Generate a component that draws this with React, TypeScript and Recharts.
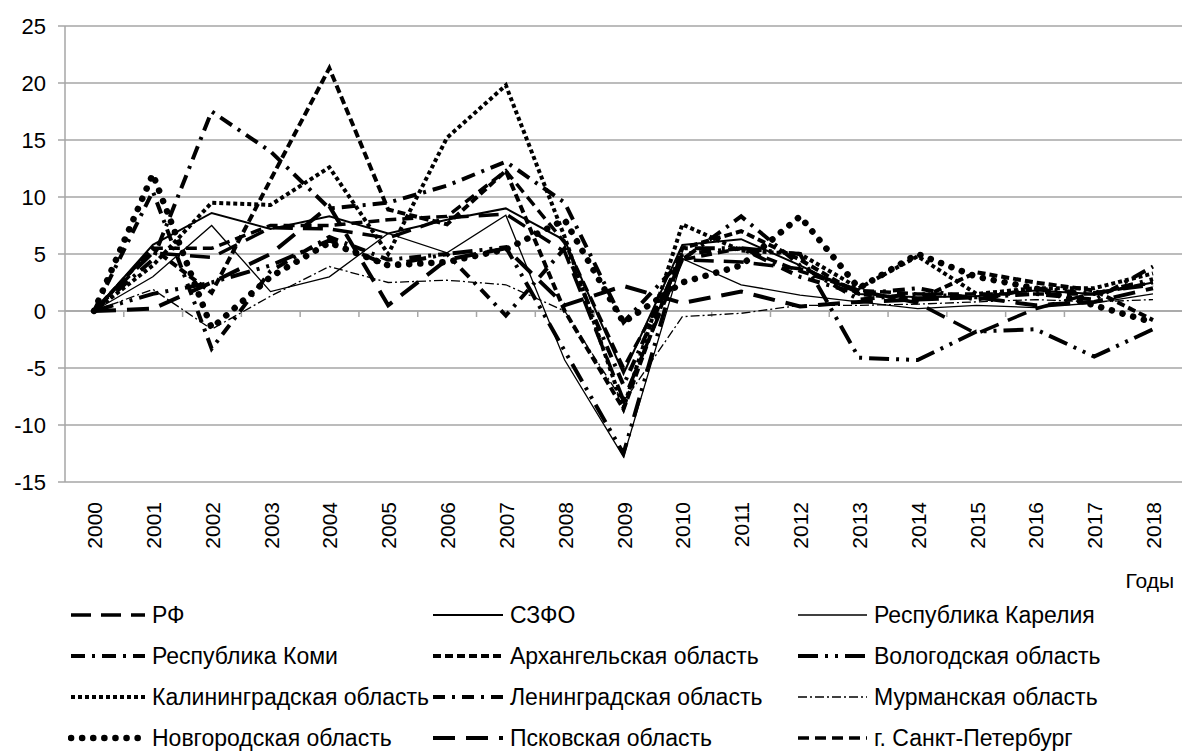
import { LineChart, Line, XAxis, YAxis, CartesianGrid, ReferenceLine } from "recharts";

const FONT = "'Liberation Sans', Arial, sans-serif";

const years = ["2000", "2001", "2002", "2003", "2004", "2005", "2006", "2007", "2008", "2009", "2010", "2011", "2012", "2013", "2014", "2015", "2016", "2017", "2018"];
const yTicks = [-15, -10, -5, 0, 5, 10, 15, 20, 25];

const rf = [0, 5.1, 4.7, 7.3, 7.2, 6.4, 8.2, 8.5, 5.2, -7.8, 4.5, 4.3, 3.7, 1.8, 0.7, -2.0, 0.2, 1.6, 2.3];
const szfo = [0, 5.8, 8.6, 7.2, 8.3, 6.8, 8.0, 9.0, 6.2, -5.5, 5.8, 6.3, 4.0, 1.5, 1.2, 1.3, 1.8, 1.5, 2.5];
const karelia = [0, 3.0, 7.5, 1.7, 3.0, 6.8, 5.1, 8.4, -4.3, -12.8, 4.6, 2.3, 1.4, 0.8, 0.2, 0.5, 0.3, 0.7, 1.5];
const komi = [0, 4.5, 17.5, 14.0, 9.0, 9.5, 11.0, 13.1, 9.5, -1.0, 4.5, 8.3, 4.0, 1.0, 1.5, 1.2, 1.5, 1.0, 3.9];
const arkh = [0, 5.5, 1.6, 11.5, 21.3, 8.9, 7.6, 12.3, 0.0, -8.6, 5.5, 7.0, 4.5, 1.5, 1.0, 3.4, 2.5, 1.8, -0.8];
const vologda = [0, 1.5, 2.5, 4.0, 6.2, 4.0, 5.0, 5.6, -3.5, -12.5, 5.5, 5.5, 5.0, -4.1, -4.3, -1.8, -1.6, -4.0, -1.6];
const kalin = [0, 4.0, 9.5, 9.3, 12.6, 5.0, 15.2, 19.8, 6.5, -8.5, 7.6, 5.3, 5.0, 2.0, 4.8, 1.5, 2.0, 2.0, 3.3];
const leningrad = [0, 10.5, -3.3, 3.5, 6.5, 4.5, 5.0, -0.4, 5.5, -6.5, 5.0, 5.5, 3.0, 1.5, 2.0, 1.0, 2.0, 1.5, 2.8];
const murmansk = [0, 1.9, -1.6, 1.3, 3.9, 2.5, 2.7, 2.3, 0.0, -8.0, -0.5, -0.2, 0.5, 0.5, 0.6, 0.8, 1.0, 0.8, 1.0];
const novgorod = [0, 12.0, -1.5, 3.0, 6.0, 4.0, 4.3, 5.4, 8.0, -1.0, 2.5, 4.0, 8.3, 2.0, 5.0, 3.0, 2.0, 0.5, -1.0];
const pskov = [0, 0.2, 2.5, 5.0, 9.2, 0.5, 4.5, 5.5, 0.5, 2.2, 0.7, 1.7, 0.4, 0.8, 1.0, 1.2, 0.5, 0.8, 2.0];
const spb = [0, 5.5, 5.5, 7.5, 7.5, 8.0, 8.3, 12.3, 6.0, -5.0, 4.5, 5.5, 3.5, 1.8, 1.5, 1.5, 1.5, 1.5, 2.5];

const series = [
  { key: "rf", name: "РФ", values: rf, width: 3.5, dash: "20 10", cap: "butt" },
  { key: "szfo", name: "СЗФО", values: szfo, width: 2, dash: undefined, cap: "butt" },
  { key: "karelia", name: "Республика Карелия", values: karelia, width: 1.3, dash: undefined, cap: "butt" },
  { key: "komi", name: "Республика Коми", values: komi, width: 4, dash: "14 7 3 7", cap: "butt" },
  { key: "arkh", name: "Архангельская область", values: arkh, width: 4, dash: "8 4", cap: "butt" },
  { key: "vologda", name: "Вологодская область", values: vologda, width: 4, dash: "20 7 3 7 3 7", cap: "butt" },
  { key: "kalin", name: "Калининградская область", values: kalin, width: 4, dash: "4 3", cap: "butt" },
  { key: "leningrad", name: "Ленинградская область", values: leningrad, width: 4, dash: "12 7 3 7", cap: "butt" },
  { key: "murmansk", name: "Мурманская область", values: murmansk, width: 1.3, dash: "9 3 2 3", cap: "butt" },
  { key: "novgorod", name: "Новгородская область", values: novgorod, width: 6.5, dash: "0.1 11", cap: "round" },
  { key: "pskov", name: "Псковская область", values: pskov, width: 4, dash: "22 11", cap: "butt" },
  { key: "spb", name: "г. Санкт-Петербург", values: spb, width: 3.5, dash: "11 6", cap: "butt" },
];

const data = years.map((year, i) => {
  const row: Record<string, string | number> = { year };
  series.forEach((s) => {
    row[s.key] = s.values[i];
  });
  return row;
});

function YearTick({ x, y, payload }: any) {
  return (
    <text
      transform={`translate(${x + 8},${y + 12}) rotate(-90)`}
      textAnchor="end"
      fontSize={21}
      fontFamily={FONT}
      fill="#000"
    >
      {payload.value}
    </text>
  );
}

// zero line with category boundary ticks, like the category axis crossing at 0
function ZeroAxis(props: any) {
  const { x1, x2, y1 } = props;
  if (x1 == null || x2 == null || y1 == null) return null;
  const n = years.length;
  const step = (x2 - x1) / n;
  return (
    <g>
      <line x1={x1} y1={y1} x2={x2} y2={y1} stroke="#a6a6a6" strokeWidth={1.5} />
      {years.slice(1).map((_, k) => (
        <line
          key={k}
          x1={x1 + step * (k + 1)}
          x2={x1 + step * (k + 1)}
          y1={y1}
          y2={y1 + 6}
          stroke="#a6a6a6"
          strokeWidth={1.5}
        />
      ))}
    </g>
  );
}

const legendIconX = [68, 430, 795];
const legendTextX = [152, 510, 874];
const legendRows = [615, 656, 697, 738];

function LegendBox() {
  return (
    <div style={{ position: "absolute", left: 0, top: 0, width: 1182, height: 754, pointerEvents: "none" }}>
      {series.map((s, i) => {
        const col = i % 3;
        const cy = legendRows[Math.floor(i / 3)];
        const iw = legendTextX[col] - legendIconX[col] - 4;
        return (
          <div key={s.key}>
            <svg style={{ position: "absolute", left: legendIconX[col], top: cy - 10 }} width={iw} height={20}>
              <line
                x1={3}
                y1={10}
                x2={iw - 3}
                y2={10}
                stroke="#000"
                strokeWidth={s.width}
                strokeDasharray={s.dash}
                strokeLinecap={s.cap as any}
              />
            </svg>
            <div
              style={{
                position: "absolute",
                left: legendTextX[col],
                top: cy - 14,
                fontFamily: FONT,
                fontSize: 23,
                lineHeight: "28px",
                color: "#000",
                whiteSpace: "nowrap",
              }}
            >
              {s.name}
            </div>
          </div>
        );
      })}
    </div>
  );
}

export default function App() {
  return (
    <div style={{ position: "absolute", left: 0, top: 0, width: 1182, height: 754, background: "#fff" }}>
      <LineChart width={1182} height={600} data={data} margin={{ top: 26, right: 0, bottom: 0, left: 0 }}>
        <CartesianGrid vertical={false} stroke="#a6a6a6" strokeWidth={1.5} />
        <XAxis
          dataKey="year"
          height={118}
          axisLine={false}
          tickLine={false}
          tick={<YearTick />}
          interval={0}
          padding={{ left: 29, right: 29 }}
          label={{
            content: ({ viewBox }: any) => (
              <text
                x={viewBox.x + viewBox.width - 8}
                y={viewBox.y + 106}
                textAnchor="end"
                fontSize={21}
                fontFamily={FONT}
                fill="#000"
              >
                Годы
              </text>
            ),
          }}
        />
        <YAxis
          width={65}
          domain={[-15, 25]}
          ticks={yTicks}
          interval={0}
          axisLine={{ stroke: "#a6a6a6", strokeWidth: 1.5 }}
          tickLine={{ stroke: "#a6a6a6", strokeWidth: 1.5 }}
          tickSize={7}
          tickMargin={12}
          tick={{ fill: "#000", fontSize: 22, fontFamily: FONT }}
        />
        <ReferenceLine y={0} stroke="#a6a6a6" shape={<ZeroAxis />} />
        {series.map((s) => (
          <Line
            key={s.key}
            type="linear"
            dataKey={s.key}
            name={s.name}
            stroke="#000"
            strokeWidth={s.width}
            strokeDasharray={s.dash}
            strokeLinecap={s.cap as any}
            dot={false}
            activeDot={false}
            isAnimationActive={false}
          />
        ))}
      </LineChart>
      <LegendBox />
    </div>
  );
}
